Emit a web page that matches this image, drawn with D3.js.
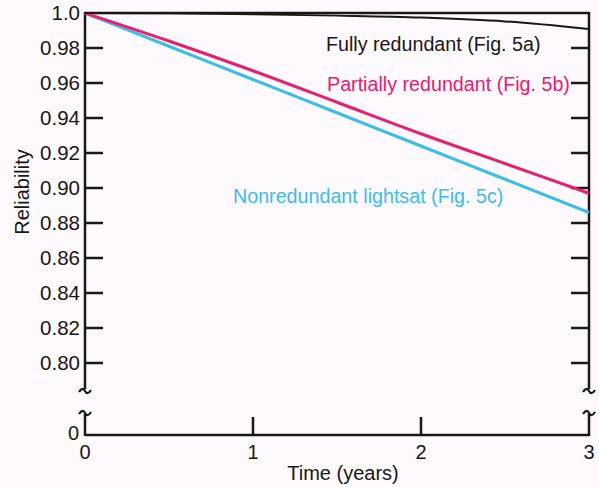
<!DOCTYPE html>
<html>
<head>
<meta charset="utf-8">
<script src="https://cdn.jsdelivr.net/npm/d3@7"></script>
<style>
  body { margin: 0; background: #fdf9fc; }
  svg { display: block; font-family: "Liberation Sans", Arial, sans-serif; }
</style>
</head>
<body>
<svg id="chart" width="599" height="487"></svg>
<script>
// values
var years = [0, 0.5, 1, 1.5, 2, 2.5, 3];
var fullyRedundant = [1.0, 0.9999, 0.9993, 0.9985, 0.9974, 0.9952, 0.9908];
var partiallyRedundant = [1.0, 0.984, 0.967, 0.949, 0.931, 0.914, 0.897];
var nonredundant = [1.0, 0.981, 0.962, 0.943, 0.924, 0.905, 0.886];
var yTicks = [1.0, 0.98, 0.96, 0.94, 0.92, 0.90, 0.88, 0.86, 0.84, 0.82, 0.80];
var xTicks = [0, 1, 2, 3];

var svg = d3.select("#chart");
var plotLeft = 85, plotRight = 589, plotTop = 13, plotBottom = 435;

var x = d3.scaleLinear().domain([0, 3]).range([plotLeft, plotRight]);
var y = d3.scaleLinear().domain([0.8, 1.0]).range([363, plotTop]);

var ink = "#1b1715";
var font = 20;

// top border
svg.append("line")
    .attr("x1", plotLeft).attr("x2", plotRight).attr("y1", plotTop).attr("y2", plotTop)
    .attr("stroke", ink).attr("stroke-width", 2.5);

// bottom axis
svg.append("line")
    .attr("x1", plotLeft).attr("x2", plotRight).attr("y1", plotBottom).attr("y2", plotBottom)
    .attr("stroke", ink).attr("stroke-width", 2.5);

// broken vertical axes
function brokenAxis(xp) {
  svg.append("line")
      .attr("x1", xp).attr("x2", xp).attr("y1", plotTop - 1).attr("y2", 389)
      .attr("stroke", ink).attr("stroke-width", 2.5);
  svg.append("line")
      .attr("x1", xp).attr("x2", xp).attr("y1", 414).attr("y2", plotBottom + 1)
      .attr("stroke", ink).attr("stroke-width", 2.5);
  [391, 413].forEach(function(yy) {
    svg.append("path")
        .attr("d", "M" + (xp - 6) + "," + (yy + 1) +
                   " C" + (xp - 3) + "," + (yy - 4) + " " + (xp - 1) + "," + (yy - 2) + " " + xp + "," + yy +
                   " S" + (xp + 3) + "," + (yy + 4) + " " + (xp + 6) + "," + (yy - 1))
        .attr("fill", "none").attr("stroke", ink).attr("stroke-width", 2.2);
  });
}
brokenAxis(plotLeft);
brokenAxis(plotRight);

// y ticks on both sides, pointing inward
yTicks.slice(1).forEach(function(v) {
  svg.append("line")
      .attr("x1", plotLeft).attr("x2", plotLeft + 18).attr("y1", y(v)).attr("y2", y(v))
      .attr("stroke", ink).attr("stroke-width", 2.5);
  svg.append("line")
      .attr("x1", plotRight - 18).attr("x2", plotRight).attr("y1", y(v)).attr("y2", y(v))
      .attr("stroke", ink).attr("stroke-width", 2.5);
});

svg.selectAll(".ylab")
  .data(yTicks)
  .enter().append("text")
    .attr("class", "ylab")
    .attr("x", plotLeft - 5)
    .attr("y", function(d) { return y(d); })
    .attr("dy", "0.35em")
    .attr("text-anchor", "end")
    .attr("font-size", 20.5)
    .attr("fill", ink)
    .text(function(d) { return d === 1 ? "1.0" : d3.format(".2f")(d); });

svg.append("text")
    .attr("x", plotLeft - 6).attr("y", plotBottom - 2).attr("dy", "0.35em")
    .attr("text-anchor", "end").attr("font-size", font).attr("fill", ink)
    .text("0");

// x ticks
xTicks.slice(1, 3).forEach(function(v) {
  svg.append("line")
      .attr("x1", x(v)).attr("x2", x(v)).attr("y1", plotBottom).attr("y2", plotBottom - 18)
      .attr("stroke", ink).attr("stroke-width", 2.5);
});

svg.selectAll(".xlab")
  .data(xTicks)
  .enter().append("text")
    .attr("class", "xlab")
    .attr("x", function(d) { return x(d); })
    .attr("y", 459)
    .attr("text-anchor", "middle")
    .attr("font-size", font)
    .attr("fill", ink)
    .text(function(d) { return d; });

// axis titles
svg.append("text")
    .attr("x", 343).attr("y", 480)
    .attr("text-anchor", "middle").attr("font-size", font).attr("fill", ink)
    .text("Time (years)");

svg.append("text")
    .attr("transform", "translate(29,192) rotate(-90)")
    .attr("text-anchor", "middle").attr("font-size", font).attr("fill", ink)
    .text("Reliability");

// curves
var line = d3.line()
    .x(function(d, i) { return x(years[i]); })
    .y(function(d) { return y(d); })
    .curve(d3.curveMonotoneX);

svg.append("path").datum(nonredundant)
    .attr("d", line).attr("fill", "none")
    .attr("stroke", "#3bbde9").attr("stroke-width", 3);
svg.append("path").datum(partiallyRedundant)
    .attr("d", line).attr("fill", "none")
    .attr("stroke", "#e5206f").attr("stroke-width", 3);
svg.append("path").datum(fullyRedundant)
    .attr("d", line).attr("fill", "none")
    .attr("stroke", ink).attr("stroke-width", 2);

// labels
svg.append("text")
    .attr("x", 326).attr("y", 51).attr("font-size", 19.7).attr("fill", ink)
    .text("Fully redundant (Fig. 5a)");
svg.append("text")
    .attr("x", 327).attr("y", 91).attr("font-size", 19.7).attr("fill", "#e5206f")
    .text("Partially redundant (Fig. 5b)");
svg.append("text")
    .attr("x", 233).attr("y", 203).attr("font-size", 19.7).attr("fill", "#3bbde9")
    .text("Nonredundant lightsat (Fig. 5c)");
</script>
</body>
</html>
